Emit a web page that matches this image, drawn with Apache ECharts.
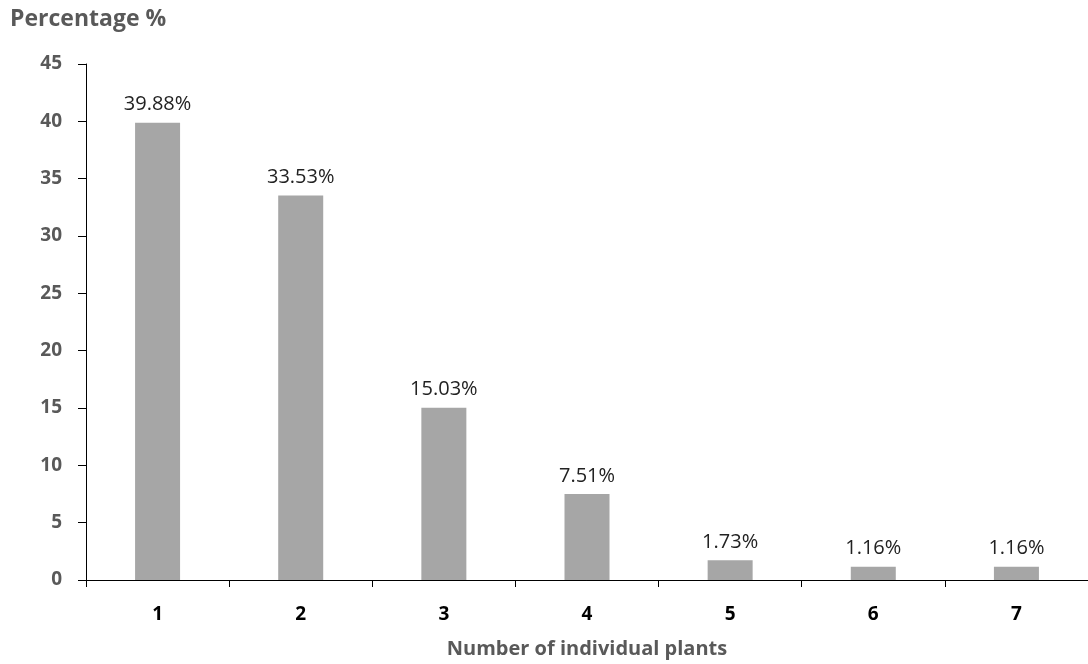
<!DOCTYPE html>
<html><head><meta charset="utf-8">
<script src="https://cdn.jsdelivr.net/npm/echarts@6/dist/echarts.min.js"></script>
<style>html,body{margin:0;padding:0;background:#fff}#c{width:1088px;height:664px}</style>
</head><body><div id="c"></div>
<script>
var categories = ['1','2','3','4','5','6','7'];
var values = [39.88, 33.53, 15.03, 7.51, 1.73, 1.16, 1.16];
var yTicks = [0,5,10,15,20,25,30,35,40,45];
var FONT = '"Open Sans", sans-serif';
var chart = echarts.init(document.getElementById('c'));
chart.setOption({
  animation: false,
  title: {text: 'Percentage %', left: 5, top: 3, textStyle: {fontFamily: FONT, fontSize: 23, fontWeight: 'bold', color: '#595959'}},
  grid: {left: 86, right: -4, top: 64, bottom: 82, containLabel: false},
  xAxis: {
    type: 'category', data: categories,
    name: 'Number of individual plants', nameLocation: 'middle', nameGap: 59,
    nameTextStyle: {fontFamily: FONT, fontSize: 20, fontWeight: 'bold', color: '#595959'},
    axisLine: {lineStyle: {color: '#000', width: 1}},
    axisTick: {show: true, alignWithLabel: false, length: 7, lineStyle: {color: '#000'}},
    axisLabel: {fontFamily: FONT, fontSize: 19, fontWeight: 'bold', color: '#000', margin: 25}
  },
  yAxis: {
    type: 'value', min: yTicks[0], max: yTicks[yTicks.length-1], interval: 5,
    axisLine: {show: true, lineStyle: {color: '#000', width: 1}},
    axisTick: {show: true, length: 8, lineStyle: {color: '#000'}},
    splitLine: {show: false},
    axisLabel: {fontFamily: FONT, fontSize: 19, fontWeight: 'bold', color: '#595959', margin: 24}
  },
  series: [{
    type: 'bar', data: values, barWidth: 45,
    itemStyle: {color: '#a6a6a6'},
    label: {show: true, position: 'top', distance: 8, fontFamily: FONT, fontSize: 20, color: '#222',
      formatter: function(p){ return p.value.toFixed(2) + '%'; }}
  }]
});
</script></body></html>
